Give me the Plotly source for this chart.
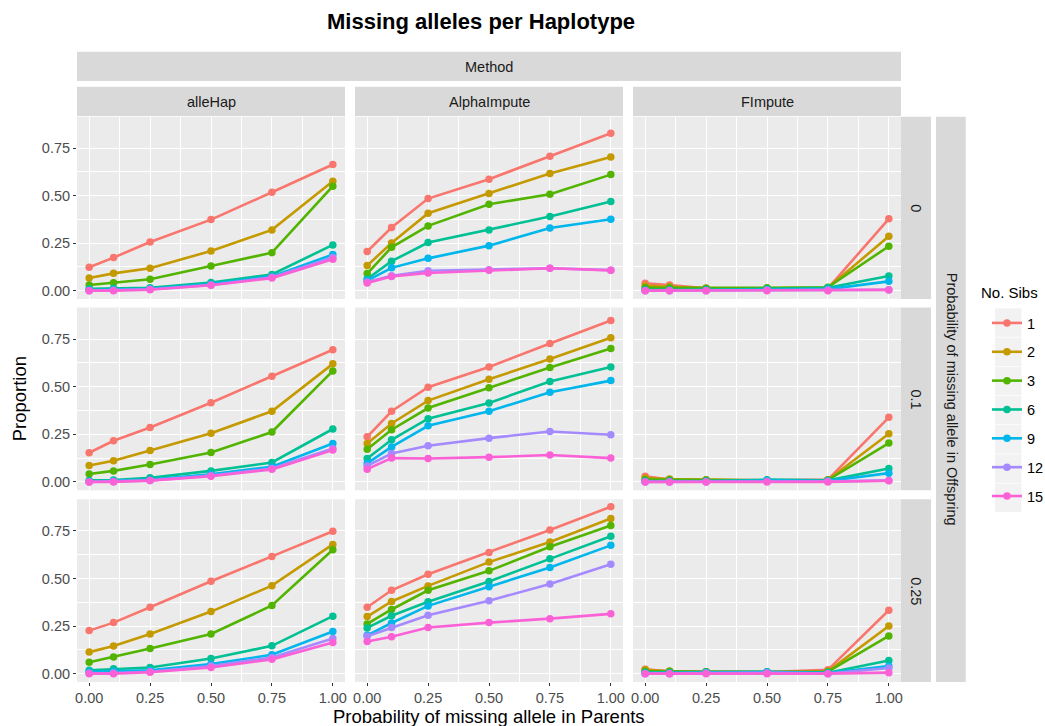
import plotly.graph_objects as go
from plotly.subplots import make_subplots

# ---------------- data ----------------
x_parents = [0.0, 0.1, 0.25, 0.5, 0.75, 1.0]
sibs = ["1", "2", "3", "6", "9", "12", "15"]
methods = ["alleHap", "AlphaImpute", "FImpute"]
offspring = ["0", "0.1", "0.25"]

# rows: series 1,2,3,6,9,12,15 ; columns: x_parents
allehap_0 = [
    [0.123, 0.174, 0.256, 0.374, 0.518, 0.664],
    [0.067, 0.091, 0.118, 0.209, 0.320, 0.576],
    [0.030, 0.042, 0.060, 0.130, 0.200, 0.550],
    [0.010, 0.012, 0.015, 0.043, 0.085, 0.241],
    [0.003, 0.005, 0.010, 0.035, 0.075, 0.190],
    [0.000, 0.002, 0.007, 0.030, 0.070, 0.175],
    [0.000, 0.000, 0.005, 0.028, 0.066, 0.165],
]
alphaimpute_0 = [
    [0.206, 0.332, 0.485, 0.587, 0.708, 0.829],
    [0.132, 0.251, 0.408, 0.511, 0.617, 0.704],
    [0.090, 0.228, 0.341, 0.455, 0.508, 0.611],
    [0.061, 0.155, 0.253, 0.320, 0.390, 0.469],
    [0.053, 0.120, 0.170, 0.237, 0.330, 0.376],
    [0.045, 0.078, 0.105, 0.110, 0.118, 0.108],
    [0.040, 0.075, 0.093, 0.107, 0.118, 0.107],
]
fimpute_0 = [
    [0.039, 0.030, 0.012, 0.010, 0.012, 0.378],
    [0.025, 0.020, 0.012, 0.012, 0.015, 0.286],
    [0.015, 0.015, 0.012, 0.015, 0.018, 0.234],
    [0.005, 0.005, 0.005, 0.010, 0.015, 0.077],
    [0.002, 0.002, 0.003, 0.005, 0.008, 0.049],
    [0.000, 0.000, 0.000, 0.003, 0.003, 0.005],
    [0.000, 0.000, 0.000, 0.000, 0.000, 0.004],
]
allehap_01 = [
    [0.153, 0.216, 0.286, 0.416, 0.555, 0.694],
    [0.086, 0.111, 0.165, 0.256, 0.371, 0.620],
    [0.042, 0.058, 0.091, 0.155, 0.262, 0.583],
    [0.008, 0.010, 0.022, 0.058, 0.102, 0.278],
    [0.002, 0.005, 0.012, 0.040, 0.080, 0.202],
    [0.000, 0.002, 0.008, 0.033, 0.070, 0.175],
    [0.000, 0.000, 0.007, 0.030, 0.066, 0.167],
]
alphaimpute_01 = [
    [0.237, 0.371, 0.497, 0.604, 0.727, 0.848],
    [0.202, 0.307, 0.427, 0.539, 0.646, 0.757],
    [0.172, 0.274, 0.388, 0.494, 0.601, 0.701],
    [0.123, 0.221, 0.332, 0.415, 0.527, 0.604],
    [0.097, 0.184, 0.295, 0.371, 0.471, 0.532],
    [0.084, 0.149, 0.190, 0.230, 0.265, 0.248],
    [0.067, 0.125, 0.123, 0.130, 0.141, 0.125],
]
fimpute_01 = [
    [0.030, 0.012, 0.010, 0.008, 0.012, 0.339],
    [0.020, 0.015, 0.012, 0.008, 0.010, 0.253],
    [0.012, 0.012, 0.010, 0.008, 0.010, 0.204],
    [0.005, 0.005, 0.005, 0.012, 0.008, 0.070],
    [0.002, 0.002, 0.003, 0.008, 0.005, 0.046],
    [0.000, 0.000, 0.000, 0.003, 0.003, 0.008],
    [0.000, 0.000, 0.000, 0.000, 0.000, 0.006],
]
allehap_025 = [
    [0.226, 0.268, 0.349, 0.485, 0.616, 0.748],
    [0.113, 0.145, 0.208, 0.326, 0.462, 0.679],
    [0.060, 0.088, 0.132, 0.208, 0.358, 0.651],
    [0.018, 0.025, 0.032, 0.079, 0.146, 0.302],
    [0.010, 0.012, 0.018, 0.050, 0.099, 0.221],
    [0.002, 0.003, 0.010, 0.040, 0.085, 0.184],
    [0.000, 0.000, 0.007, 0.032, 0.075, 0.164],
]
alphaimpute_025 = [
    [0.349, 0.438, 0.522, 0.637, 0.755, 0.877],
    [0.300, 0.379, 0.461, 0.586, 0.692, 0.815],
    [0.261, 0.337, 0.438, 0.540, 0.667, 0.778],
    [0.240, 0.304, 0.378, 0.484, 0.603, 0.722],
    [0.201, 0.266, 0.356, 0.457, 0.558, 0.674],
    [0.196, 0.242, 0.307, 0.383, 0.471, 0.575],
    [0.169, 0.194, 0.242, 0.268, 0.289, 0.314],
]
fimpute_025 = [
    [0.023, 0.012, 0.010, 0.008, 0.020, 0.333],
    [0.020, 0.012, 0.010, 0.008, 0.012, 0.250],
    [0.012, 0.012, 0.010, 0.008, 0.010, 0.198],
    [0.005, 0.005, 0.008, 0.010, 0.005, 0.069],
    [0.003, 0.003, 0.005, 0.008, 0.003, 0.040],
    [0.000, 0.000, 0.003, 0.005, 0.000, 0.030],
    [0.000, 0.000, 0.000, 0.000, 0.000, 0.005],
]

panels = [
    [allehap_0, alphaimpute_0, fimpute_0],
    [allehap_01, alphaimpute_01, fimpute_01],
    [allehap_025, alphaimpute_025, fimpute_025],
]

colors = ["#F8766D", "#C49A00", "#53B400", "#00C094", "#00B6EB", "#A58AFF", "#FB61D7"]

x_ticks = [0.0, 0.25, 0.5, 0.75, 1.0]
x_ticktext = ["0.00", "0.25", "0.50", "0.75", "1.00"]
y_ticks = [0.0, 0.25, 0.5, 0.75]
y_ticktext = ["0.00", "0.25", "0.50", "0.75"]

# ---------------- layout geometry (pixels) ----------------
W, H = 1045, 726
col_px = [(77, 345), (355, 623), (633, 901)]
row_px = [(116.7, 299), (307.5, 490.3), (499.3, 682)]

def px_x(v):
    return v / W

def px_y(v):
    return 1 - v / H

FONT = "Liberation Sans, Arial, sans-serif"
TICK_SIZE = 14.5
STRIP_SIZE = 14.5

fig = make_subplots(rows=3, cols=3)

for r in range(3):
    for c in range(3):
        data = panels[r][c]
        for i, s in enumerate(sibs):
            fig.add_trace(
                go.Scatter(
                    x=x_parents,
                    y=data[i],
                    mode="lines+markers",
                    name=s,
                    legendgroup=s,
                    showlegend=(r == 0 and c == 0),
                    line=dict(color=colors[i], width=2.6),
                    marker=dict(color=colors[i], size=7.5),
                ),
                row=r + 1,
                col=c + 1,
            )

for r in range(3):
    for c in range(3):
        idx = r * 3 + c + 1
        xa = "xaxis" if idx == 1 else f"xaxis{idx}"
        ya = "yaxis" if idx == 1 else f"yaxis{idx}"
        fig.layout[xa].update(
            domain=[px_x(col_px[c][0]), px_x(col_px[c][1])],
            range=[-0.05, 1.05],
            tickvals=x_ticks,
            ticktext=x_ticktext,
            showticklabels=(r == 2),
            ticks="outside" if r == 2 else "",
            ticklen=3,
            tickcolor="#333333",
            tickfont=dict(size=TICK_SIZE, color="#4D4D4D", family=FONT),
            showgrid=True,
            gridcolor="white",
            gridwidth=1.1,
            zeroline=False,
            showline=False,
            minor=dict(tickvals=[0.125, 0.375, 0.625, 0.875], showgrid=True,
                       gridcolor="white", gridwidth=0.5, ticks=""),
            fixedrange=True,
        )
        fig.layout[ya].update(
            domain=[px_y(row_px[r][1]), px_y(row_px[r][0])],
            range=[-0.044, 0.916],
            tickvals=y_ticks,
            ticktext=y_ticktext,
            showticklabels=(c == 0),
            ticks="outside" if c == 0 else "",
            ticklen=3,
            tickcolor="#333333",
            tickfont=dict(size=TICK_SIZE, color="#4D4D4D", family=FONT),
            showgrid=True,
            gridcolor="white",
            gridwidth=1.1,
            zeroline=False,
            showline=False,
            minor=dict(tickvals=[0.125, 0.375, 0.625], showgrid=True,
                       gridcolor="white", gridwidth=0.5, ticks=""),
            fixedrange=True,
        )

shapes = []
annotations = []
STRIP = "#D9D9D9"
PANEL = "#EBEBEB"

def ann(text, x, y, size, color="#1A1A1A", angle=0, xanchor="center"):
    return dict(text=text, x=px_x(x), y=px_y(y), xref="paper", yref="paper",
                xanchor=xanchor, yanchor="middle", showarrow=False, textangle=angle,
                font=dict(size=size, color=color, family=FONT))

# panel backgrounds
for r in range(3):
    for c in range(3):
        shapes.append(dict(type="rect", xref="paper", yref="paper", layer="below",
                           x0=px_x(col_px[c][0]), x1=px_x(col_px[c][1]),
                           y0=px_y(row_px[r][1]), y1=px_y(row_px[r][0]),
                           fillcolor=PANEL, line=dict(width=0)))

# Method strip
shapes.append(dict(type="rect", xref="paper", yref="paper", layer="below",
                   x0=px_x(77), x1=px_x(901), y0=px_y(81), y1=px_y(51.7),
                   fillcolor=STRIP, line=dict(width=0)))
annotations.append(ann("Method", 489, 67, STRIP_SIZE))
# column strips
for c in range(3):
    shapes.append(dict(type="rect", xref="paper", yref="paper", layer="below",
                       x0=px_x(col_px[c][0]), x1=px_x(col_px[c][1]),
                       y0=px_y(116), y1=px_y(86.7),
                       fillcolor=STRIP, line=dict(width=0)))
    annotations.append(ann(methods[c], (col_px[c][0] + col_px[c][1]) / 2, 101.8, STRIP_SIZE))
# row strips
for r in range(3):
    shapes.append(dict(type="rect", xref="paper", yref="paper", layer="below",
                       x0=px_x(901), x1=px_x(931),
                       y0=px_y(row_px[r][1]), y1=px_y(row_px[r][0]),
                       fillcolor=STRIP, line=dict(width=0)))
    annotations.append(ann(offspring[r], 916.5, (row_px[r][0] + row_px[r][1]) / 2,
                           STRIP_SIZE, angle=90))
# outer row strip
shapes.append(dict(type="rect", xref="paper", yref="paper", layer="below",
                   x0=px_x(936), x1=px_x(965.7), y0=px_y(682), y1=px_y(116.7),
                   fillcolor=STRIP, line=dict(width=0)))
annotations.append(ann("Probability of missing allele in Offspring", 951.5, 399.3,
                       STRIP_SIZE, angle=90))

# legend key backgrounds
for k in range(len(sibs)):
    y0 = 308.3 + k * 29.2
    shapes.append(dict(type="rect", xref="paper", yref="paper", layer="below",
                       x0=px_x(995), x1=px_x(1021.5), y0=px_y(y0 + 28.5), y1=px_y(y0),
                       fillcolor="#F2F2F2", line=dict(width=0)))

# legend title
annotations.append(ann("No. Sibs", 979, 292, 15, color="black", xanchor="left"))

# axis titles
annotations.append(ann("Proportion", 19, 399.3, 18.5, color="black", angle=-90))
annotations.append(ann("Probability of missing allele in Parents", 489, 716, 18.5, color="black"))
# title
annotations.append(ann("<b>Missing alleles per Haplotype</b>", 481, 22, 22, color="black"))

fig.update_layout(
    width=W, height=H,
    margin=dict(l=0, r=0, t=0, b=0, autoexpand=False),
    paper_bgcolor="white",
    plot_bgcolor="rgba(0,0,0,0)",
    shapes=shapes,
    annotations=annotations,
    font=dict(family=FONT),
    showlegend=True,
    legend=dict(
        x=px_x(987), y=px_y(307), xanchor="left", yanchor="top",
        font=dict(size=TICK_SIZE, color="black", family=FONT),
        tracegroupgap=7,
        bgcolor="rgba(0,0,0,0)",
        itemwidth=30,
    ),
)

fig.write_html("out.html")
